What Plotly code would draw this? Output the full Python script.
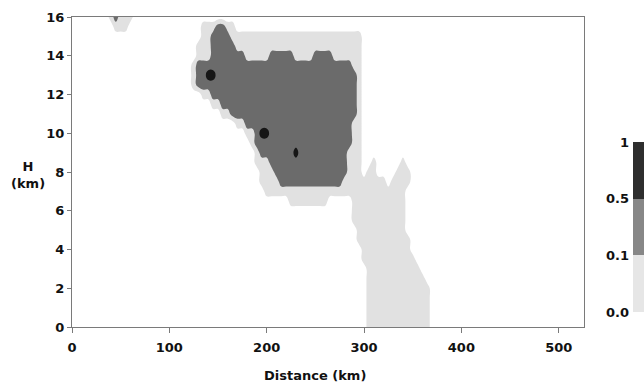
import plotly.graph_objects as go

# ---------------- data ----------------
# grid columns: distance (km), 0 ... 395 km every 5 km (beyond 395 km everything is 0)
distance_km = [5 * i for i in range(80)]
# grid rows: height (km), top to bottom
height_km = [16.0, 15.5, 15.0, 14.5, 14.0, 13.5, 13.0, 12.5, 12.0, 11.5, 11.0,
             10.5, 10.0, 9.5, 9.0, 8.5, 8.0, 7.5, 7.0, 6.5, 6.0, 5.5, 5.0,
             4.5, 4.0, 3.5, 3.0, 2.5, 2.0, 1.5, 1.0, 0.5, 0.0]

# class codes per grid cell (0: none, 1: 0.0-0.1, 2: 0.1-0.5, 3: 0.5-1)
# each row is split in blocks of 50 km (10 cells) for readability
class_rows = [
    "0000000012 1110000000 0000000000 0000000000 0000000000 0000000000 0000000000 0000000000",  # 16.0
    "0000000001 1100000000 0000000111 2211000000 0000000000 0000000000 0000000000 0000000000",  # 15.5
    "0000000000 0000000000 0000000112 2221111111 1111111111 1111111111 0000000000 0000000000",  # 15.0
    "0000000000 0000000000 0000001112 2222111111 1111111111 1111111111 0000000000 0000000000",  # 14.5
    "0000000000 0000000000 0000001112 2222221111 1222221111 2222111111 0000000000 0000000000",  # 14.0
    "0000000000 0000000000 0000012222 2222222222 2222222222 2222222211 0000000000 0000000000",  # 13.5
    "0000000000 0000000000 0000012233 2222222222 2222222222 2222222221 0000000000 0000000000",  # 13.0
    "0000000000 0000000000 0000012222 2222222222 2222222222 2222222221 0000000000 0000000000",  # 12.5
    "0000000000 0000000000 0000000112 2222222222 2222222222 2222222221 0000000000 0000000000",  # 12.0
    "0000000000 0000000000 0000000001 1222222222 2222222222 2222222221 0000000000 0000000000",  # 11.5
    "0000000000 0000000000 0000000000 0112222222 2222222222 2222222221 0000000000 0000000000",  # 11.0
    "0000000000 0000000000 0000000000 0000112222 2222222222 2222222211 0000000000 0000000000",  # 10.5
    "0000000000 0000000000 0000000000 0000001123 3222222222 2222222211 0000000000 0000000000",  # 10.0
    "0000000000 0000000000 0000000000 0000000122 2222222222 2222222211 0000000000 0000000000",  # 9.5
    "0000000000 0000000000 0000000000 0000000012 2222223222 2222222111 0000000000 0000000000",  # 9.0
    "0000000000 0000000000 0000000000 0000000011 1222222222 2222222111 0010000010 0000000000",  # 8.5
    "0000000000 0000000000 0000000000 0000000001 1122222222 2222222111 0110000111 0000000000",  # 8.0
    "0000000000 0000000000 0000000000 0000000001 1112222222 2222221111 1111101111 0000000000",  # 7.5
    "0000000000 0000000000 0000000000 0000000000 1111111111 1111111111 1111111110 0000000000",  # 7.0
    "0000000000 0000000000 0000000000 0000000000 0000011111 1110000011 1111111110 0000000000",  # 6.5
    "0000000000 0000000000 0000000000 0000000000 0000000000 0000000011 1111111110 0000000000",  # 6.0
    "0000000000 0000000000 0000000000 0000000000 0000000000 0000000011 1111111110 0000000000",  # 5.5
    "0000000000 0000000000 0000000000 0000000000 0000000000 0000000001 1111111110 0000000000",  # 5.0
    "0000000000 0000000000 0000000000 0000000000 0000000000 0000000001 1111111111 0000000000",  # 4.5
    "0000000000 0000000000 0000000000 0000000000 0000000000 0000000000 1111111111 0000000000",  # 4.0
    "0000000000 0000000000 0000000000 0000000000 0000000000 0000000000 1111111111 1000000000",  # 3.5
    "0000000000 0000000000 0000000000 0000000000 0000000000 0000000000 0111111111 1100000000",  # 3.0
    "0000000000 0000000000 0000000000 0000000000 0000000000 0000000000 0111111111 1110000000",  # 2.5
    "0000000000 0000000000 0000000000 0000000000 0000000000 0000000000 0111111111 1111000000",  # 2.0
    "0000000000 0000000000 0000000000 0000000000 0000000000 0000000000 0111111111 1111000000",  # 1.5
    "0000000000 0000000000 0000000000 0000000000 0000000000 0000000000 0111111111 1111000000",  # 1.0
    "0000000000 0000000000 0000000000 0000000000 0000000000 0000000000 0111111111 1111000000",  # 0.5
    "0000000000 0000000000 0000000000 0000000000 0000000000 0000000000 0111111111 1111000000",  # 0.0
]

# colour-key classes and labels
key_classes = [0, 1, 2]
key_centers = [0.5, 1.5, 2.5]
key_tickvals = [0, 1, 2, 3]
key_labels = ["0.0", "0.1", "0.5", "1"]

x_ticks = [0, 100, 200, 300, 400, 500]
y_ticks = [0, 2, 4, 6, 8, 10, 12, 14, 16]

# ---------------- styling ----------------
WHITE = "#ffffff"
LIGHT = "#e1e1e1"
MID = "#6b6b6b"
DARK = "#161616"
KEY_LIGHT = "#e6e6e6"
KEY_MID = "#878787"
KEY_DARK = "#2e2e2e"
AXIS = "#7a7a7a"
FONT = dict(family="DejaVu Sans", size=13, color="#111111", weight="bold")

z = [[int(c) for c in row.replace(" ", "")] for row in class_rows][::-1]
h = height_km[::-1]

fig = go.Figure()
fig.add_trace(go.Contour(
    x=distance_km, y=h, z=z,
    contours=dict(start=0.5, end=2.5, size=1, coloring="fill", showlines=False),
    colorscale=[[0, WHITE], [1 / 3, LIGHT], [2 / 3, MID], [1, DARK]],
    line=dict(width=0, smoothing=1.3),
    showscale=False, hoverinfo="skip",
))

fig.add_trace(go.Heatmap(
    x=[0], y=key_centers, z=[[c] for c in key_classes],
    colorscale=[[0, KEY_LIGHT], [0.5, KEY_MID], [1, KEY_DARK]],
    zmin=0, zmax=2, showscale=False, hoverinfo="skip",
    xaxis="x2", yaxis="y2",
))

W, H = 644, 385
ML, MR, MT, MB = 72, 0, 17, 58
PW = W - ML - MR
PH = H - MT - MB


def px_x(p):
    return (p - ML) / PW


def px_y(p):
    return (H - MB - p) / PH


fig.update_layout(
    width=W, height=H,
    margin=dict(l=ML, r=MR, t=MT, b=MB, pad=0),
    paper_bgcolor="white", plot_bgcolor="white",
    font=FONT,
    showlegend=False,
    xaxis=dict(
        domain=[0, px_x(584)], range=[0, 526], tickvals=x_ticks,
        ticks="outside", ticklen=5, tickwidth=1, tickcolor=AXIS,
        showline=True, linecolor=AXIS, linewidth=1, mirror=True,
        showgrid=False, zeroline=False, tickfont=FONT, ticklabelstandoff=3,
    ),
    yaxis=dict(
        range=[0, 16], tickvals=y_ticks,
        ticks="outside", ticklen=4, tickwidth=1, tickcolor=AXIS,
        showline=True, linecolor=AXIS, linewidth=1, mirror=True,
        showgrid=False, zeroline=False, tickfont=FONT,
    ),
    xaxis2=dict(domain=[px_x(633), 1], range=[-0.5, 0.5], visible=False, anchor="y2"),
    yaxis2=dict(
        domain=[px_y(312), px_y(142)], range=[0, 3], anchor="x2",
        tickvals=key_tickvals, ticktext=key_labels, side="left",
        ticks="", showline=False, showgrid=False, zeroline=False,
        tickfont=FONT, ticklabelstandoff=3,
    ),
    annotations=[
        dict(text="Distance (km)", xref="paper", yref="paper",
             x=px_x(314.5), y=px_y(376), xanchor="center", yanchor="middle",
             showarrow=False, font=FONT),
        dict(text="H<br>(km)", xref="paper", yref="paper",
             x=px_x(27.5), y=px_y(175), xanchor="center", yanchor="middle",
             showarrow=False, font=FONT),
    ],
)

fig.write_html("out.html")
